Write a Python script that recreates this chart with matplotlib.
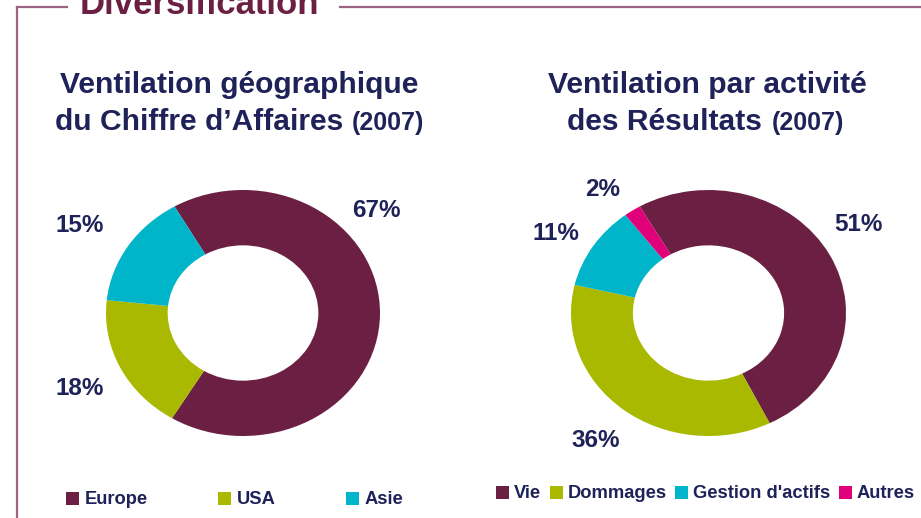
import numpy as np
import matplotlib
matplotlib.use('Agg')
import matplotlib.pyplot as plt
from matplotlib.lines import Line2D
from matplotlib.patches import Patch

# Données
geo_labels = ['Europe', 'USA', 'Asie']
geo_values = [67, 18, 15]
act_labels = ['Vie', 'Dommages', "Gestion d'actifs", 'Autres']
act_values = [51, 36, 11, 2]

geo_colors = ['#6b2043', '#a8b900', '#00b5c9']
act_colors = ['#6b2043', '#a8b900', '#00b5c9', '#e0007a']

# positions des étiquettes (coordonnées des axes du donut)
geo_label_pos = [(0.97, 0.83), (-1.19, -0.61), (-1.19, 0.71)]
act_label_pos = [(1.09, 0.72), (-0.82, -1.04), (-1.11, 0.65), (-0.77, 1.00)]

plt.rcParams['font.family'] = ['Liberation Sans', 'DejaVu Sans']
plt.rcParams['font.weight'] = 'bold'

NAVY = '#1e2258'
MAUVE = '#9b6581'
W, H = 921, 518

fig = plt.figure(figsize=(W / 100, H / 100), dpi=100)


def fx(px):
    return px / W


def fy(py):
    return (H - py) / H


# cadre
fig.add_artist(Line2D([fx(17), fx(17)], [fy(7), 0], color=MAUVE, lw=1.6))
fig.add_artist(Line2D([fx(17), fx(67)], [fy(7), fy(7)], color=MAUVE, lw=1.6))
fig.add_artist(Line2D([fx(340), 1], [fy(7), fy(7)], color=MAUVE, lw=1.6))
fig.text(fx(80), fy(14), 'Diversification', fontsize=25, color='#6b2043',
         ha='left', va='baseline')


def donut(rect, values, colors, label_pos):
    ax = fig.add_axes(rect)
    ax.pie(values, colors=colors, startangle=120, counterclock=False,
           radius=1, wedgeprops=dict(width=0.45, linewidth=0))
    ax.set_aspect('auto')
    ax.set_xlim(-1, 1)
    ax.set_ylim(-1, 1)
    for v, (x, y) in zip(values, label_pos):
        ax.text(x, y, f'{v}%', fontsize=17.5, color=NAVY, ha='center',
                va='center', clip_on=False)
    return ax


donut([fx(106), fy(436), 274 / W, 246 / H], geo_values, geo_colors, geo_label_pos)
donut([fx(571), fy(436), 275 / W, 246 / H], act_values, act_colors, act_label_pos)

# titres
fig.text(fx(239), fy(93), 'Ventilation géographique', fontsize=21.6, color=NAVY,
         ha='center', va='baseline')
fig.text(fx(343), fy(130), 'du Chiffre d\u2019Affaires', fontsize=21.6, color=NAVY,
         ha='right', va='baseline')
fig.text(fx(352), fy(130), '(2007)', fontsize=18, color=NAVY,
         ha='left', va='baseline')

fig.text(fx(707), fy(93), 'Ventilation par activité', fontsize=21.6, color=NAVY,
         ha='center', va='baseline')
fig.text(fx(762), fy(130), 'des Résultats', fontsize=21.6, color=NAVY,
         ha='right', va='baseline')
fig.text(fx(772), fy(130), '(2007)', fontsize=18, color=NAVY,
         ha='left', va='baseline')

# légendes
geo_handles = [Patch(facecolor=c, edgecolor='none') for c in geo_colors]
fig.legend(geo_handles, geo_labels, loc='center left',
           bbox_to_anchor=(fx(66), fy(500)), ncol=3, frameon=False,
           fontsize=13.2, handlelength=0.72, handleheight=0.72,
           handletextpad=0.28, columnspacing=3.85, borderpad=0,
           borderaxespad=0, labelcolor=NAVY)

act_handles = [Patch(facecolor=c, edgecolor='none') for c in act_colors]
fig.legend(act_handles, act_labels, loc='center left',
           bbox_to_anchor=(fx(496), fy(494)), ncol=4, frameon=False,
           fontsize=13.2, handlelength=0.72, handleheight=0.72,
           handletextpad=0.28, columnspacing=0.44, borderpad=0,
           borderaxespad=0, labelcolor=NAVY)

fig.savefig('out.png', dpi=100)
